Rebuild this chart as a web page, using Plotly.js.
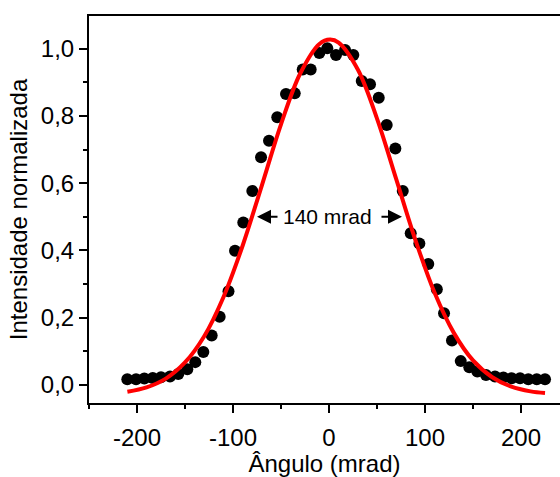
<!DOCTYPE html>
<html>
<head>
<meta charset="utf-8">
<script src="https://cdn.plot.ly/plotly-3.0.1.min.js"></script>
<style>html,body{margin:0;padding:0;background:#fff}#chart{width:560px;height:477px}</style>
</head>
<body>
<div id="chart"></div>
<script>
// Measured data (angle in mrad, normalized intensity)
const angle = [-210.1,-201.0,-192.4,-183.6,-175.0,-165.6,-157.0,-147.6,-139.3,-130.9,-122.2,-113.9,-104.7,-97.9,-89.3,-79.9,-70.8,-62.5,-53.9,-44.8,-35.7,-27.4,-19.1,-10.1,-1.8,7.3,16.7,25.3,34.1,42.7,51.8,60.1,69.1,76.8,85.1,94.1,103.4,112.3,119.8,128.1,137.2,146.1,154.5,163.5,172.9,181.6,190.3,199.0,207.6,216.4,225.0];
const intensity = [0.017,0.017,0.019,0.021,0.023,0.025,0.033,0.047,0.068,0.098,0.147,0.203,0.279,0.399,0.483,0.577,0.677,0.726,0.796,0.865,0.867,0.938,0.938,0.987,1.001,0.981,0.996,0.981,0.904,0.894,0.854,0.773,0.703,0.577,0.451,0.421,0.360,0.285,0.213,0.132,0.071,0.053,0.040,0.030,0.025,0.022,0.020,0.020,0.017,0.017,0.017];

// Fitted curve
const fitX = [-210,-190,-170,-150,-130,-110,-90,-70,-50,-30,-10,1,10,30,50,70,90,110,130,150,170,190,210,225];
const fitY = [-0.020,-0.007,0.019,0.067,0.145,0.261,0.414,0.593,0.775,0.926,1.014,1.027,1.018,0.938,0.792,0.612,0.431,0.274,0.155,0.073,0.023,-0.005,-0.019,-0.024];

const xTickVals = [-200,-100,0,100,200];
const xTickText = ['-200','-100','0','100','200'];
const yTickVals = [0,0.2,0.4,0.6,0.8,1.0];
const yTickText = ['0,0','0,2','0,4','0,6','0,8','1,0'];

const fwhmLabel = '140 mrad';
const fwhmLeft = -75, fwhmRight = 76, fwhmY = 0.5, fwhmCenter = -2;

const font = 'Liberation Sans, Arial, sans-serif';

const traces = [
  {x: angle, y: intensity, type: 'scatter', mode: 'markers',
   marker: {color: '#000', size: 12}, hoverinfo: 'skip'},
  {x: fitX, y: fitY, type: 'scatter', mode: 'lines',
   line: {color: '#ff0000', width: 4, shape: 'spline', smoothing: 1}, hoverinfo: 'skip'}
];

const layout = {
  width: 560, height: 477,
  margin: {l: 89, r: 0, t: 16, b: 74},
  paper_bgcolor: '#fff', plot_bgcolor: '#fff',
  showlegend: false,
  font: {family: font, size: 24, color: '#000'},
  xaxis: {
    range: [-250, 240.6], showgrid: false, zeroline: false,
    showline: true, linecolor: '#000', linewidth: 2, mirror: true,
    ticks: 'outside', ticklen: 8, tickwidth: 2, tickcolor: '#000',
    tickmode: 'array', tickvals: xTickVals, ticktext: xTickText,
    ticklabelstandoff: 4,
    minor: {tickmode: 'linear', tick0: 0, dtick: 50, ticks: 'outside', ticklen: 4, tickwidth: 2, tickcolor: '#000', showgrid: false},
    tickfont: {size: 24},
    title: {text: 'Ângulo (mrad)', font: {size: 24}, standoff: 5}
  },
  yaxis: {
    range: [-0.0535, 1.097], showgrid: false, zeroline: false,
    showline: true, linecolor: '#000', linewidth: 2, mirror: false,
    ticks: 'outside', ticklen: 8, tickwidth: 2, tickcolor: '#000',
    tickmode: 'array', tickvals: yTickVals, ticktext: yTickText,
    minor: {tickmode: 'linear', tick0: 0, dtick: 0.1, ticks: 'outside', ticklen: 4, tickwidth: 2, tickcolor: '#000', showgrid: false},
    tickfont: {size: 24},
    title: {text: 'Intensidade normalizada', font: {size: 24}, standoff: 6}
  },
  annotations: [
    {x: fwhmCenter, y: fwhmY, xref: 'x', yref: 'y', text: fwhmLabel, showarrow: false,
     font: {size: 21, color: '#000'}},
    {x: fwhmLeft, y: fwhmY, xref: 'x', yref: 'y', text: '', showarrow: true,
     ax: 22, ay: 0, arrowhead: 2, arrowsize: 1.4, arrowwidth: 2, arrowcolor: '#000'},
    {x: fwhmRight, y: fwhmY, xref: 'x', yref: 'y', text: '', showarrow: true,
     ax: -22, ay: 0, arrowhead: 2, arrowsize: 1.4, arrowwidth: 2, arrowcolor: '#000'}
  ]
};

Plotly.newPlot('chart', traces, layout, {displayModeBar: false, staticPlot: true});
</script>
</body>
</html>
